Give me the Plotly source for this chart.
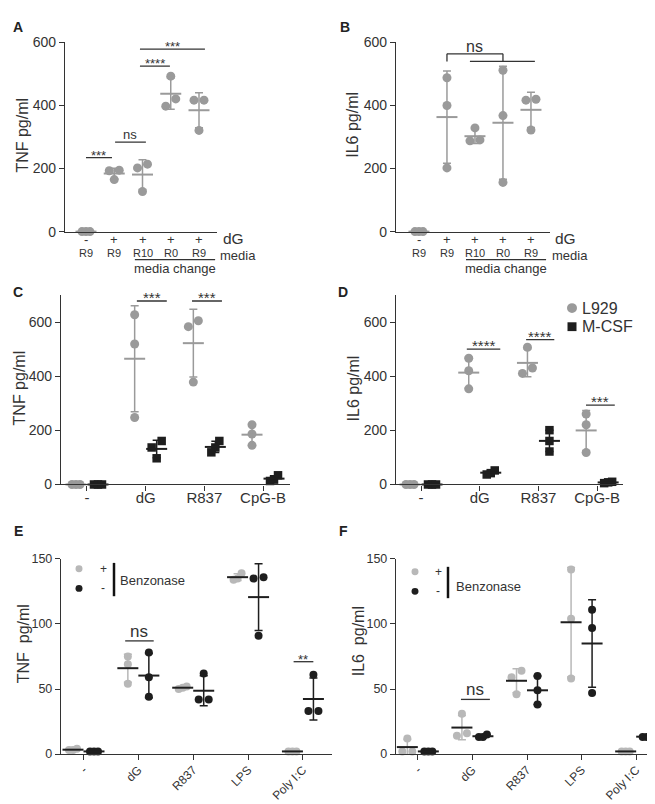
import numpy as np
import plotly.graph_objects as go

W, H = 655, 804
FONT = "Liberation Sans, Arial, Helvetica, sans-serif"
TXT = "#333333"
GRAY = "#9a9a9a"
LGRAY = "#b8b8b8"
BLACK = "#1e1e1e"

# ---------------- data ----------------
A_DG = ["-", "+", "+", "+", "+"]
A_MEDIA = ["R9", "R9", "R10", "R0", "R9"]
A_TNF = [[0, 0, 0], [193, 195, 165], [214, 202, 127], [493, 421, 398], [417, 417, 321]]
B_IL6 = [[0, 0, 0], [488, 400, 202], [329, 288, 291], [512, 368, 156], [420, 417, 322]]

CD_CATS = ["-", "dG", "R837", "CpG-B"]
C_TNF_L929 = [[0, 0, 0], [628, 520, 248], [606, 584, 379], [221, 187, 145]]
C_TNF_MCSF = [[0, 0, 0], [161, 137, 97], [161, 137, 119], [34, 18, 13]]
D_IL6_L929 = [[0, 0, 0], [467, 421, 354], [508, 431, 411], [261, 221, 118]]
D_IL6_MCSF = [[0, 0, 0], [52, 42, 37], [201, 161, 122], [10, 8, 5]]

EF_CATS = ["-", "dG", "R837", "LPS", "Poly I:C"]
E_TNF_PLUS = [[3, 4, 3], [75, 69, 54], [51, 52, 50], [139, 135, 134], [2, 2, 2]]
E_TNF_MINUS = [[2, 2, 2], [78, 59, 44], [62, 42, 42], [135, 136, 91], [61, 33, 33]]
F_IL6_PLUS = [[12, 2, 2], [31, 16, 14], [64, 59, 46], [142, 104, 58], [2, 2, 2]]
F_IL6_MINUS = [[2, 2, 2], [15, 13, 13], [60, 49, 38], [111, 97, 47], [14, 13, 13]]

Y_TICKS_AB = [0, 200, 400, 600]
Y_TICKS_CD = [0, 200, 400, 600]
Y_TICKS_EF = [0, 50, 100, 150]

# ---------------- layout geometry (pixels) ----------------
PANELS = {
    "A": dict(ax="", px=(57, 209), py=(27, 220), xr=(-0.743, 4.637), yr=(0, 600)),
    "B": dict(ax="2", px=(388, 542), py=(27, 220), xr=(-0.82, 4.68), yr=(0, 600)),
    "C": dict(ax="3", px=(53, 282), py=(285, 478), xr=(-0.443, 3.46), yr=(0, 700)),
    "D": dict(ax="4", px=(388, 615), py=(285, 478), xr=(-0.426, 3.44), yr=(0, 700)),
    "E": dict(ax="5", px=(53, 324), py=(554, 753), xr=(-0.41, 4.53), yr=(0, 150)),
    "F": dict(ax="6", px=(388, 650), py=(554, 753), xr=(-0.40, 4.40), yr=(0, 150)),
}
for p in PANELS.values():
    p["ppx"] = (p["px"][1] - p["px"][0]) / (p["xr"][1] - p["xr"][0])
    p["ppy"] = (p["py"][1] - p["py"][0]) / (p["yr"][1] - p["yr"][0])


def PX(x):
    return x / W


def PY(y):
    return 1 - y / H


def swarm(vals, p, thr=7.5):
    vals = np.asarray(vals, float)
    order = np.argsort(vals, kind="stable")
    clusters = []
    for i in order:
        if clusters and (vals[i] - vals[clusters[-1][-1]]) * p["ppy"] < thr:
            clusters[-1].append(i)
        else:
            clusters.append([i])
    offs = np.zeros(len(vals))
    for c in clusters:
        n = len(c)
        step = 10.0 if n == 2 else 4.0
        for k, i in enumerate(c):
            offs[i] = (k - (n - 1) / 2) * step / p["ppx"]
    return offs


fig = go.Figure()


def add_group(pname, center, vals, color, symbol, size, bar_color, mean_color, mean_w=15):
    p = PANELS[pname]
    xa, ya = "x" + p["ax"], "y" + p["ax"]
    v = np.asarray(vals, float)
    offs = swarm(v, p)
    fig.add_trace(go.Scatter(
        x=center + offs, y=v, mode="markers", xaxis=xa, yaxis=ya,
        marker=dict(color=color, size=size, symbol=symbol, line=dict(width=0)),
        cliponaxis=False, showlegend=False, hoverinfo="skip"))
    m = float(v.mean())
    sd = float(v.std(ddof=1))
    fig.add_trace(go.Scatter(
        x=[center], y=[m], mode="markers", xaxis=xa, yaxis=ya,
        marker=dict(symbol="line-ew", size=mean_w, color=mean_color,
                    line=dict(color=mean_color, width=2)),
        error_y=dict(type="data", array=[sd], visible=sd > 0, color=bar_color,
                     thickness=1.5, width=4),
        cliponaxis=False, showlegend=False, hoverinfo="skip"))


# Panel A, B
for i, vals in enumerate(A_TNF):
    add_group("A", i, vals, GRAY, "circle", 9, GRAY, GRAY)
for i, vals in enumerate(B_IL6):
    add_group("B", i, vals, GRAY, "circle", 9, GRAY, GRAY)

# Panel C, D
for pname, l929, mcsf in (("C", C_TNF_L929, C_TNF_MCSF), ("D", D_IL6_L929, D_IL6_MCSF)):
    d = 11 / PANELS[pname]["ppx"]
    for i in range(len(CD_CATS)):
        add_group(pname, i - d, l929[i], GRAY, "circle", 9, GRAY, GRAY)
        add_group(pname, i + d, mcsf[i], BLACK, "square", 8.5, BLACK, BLACK)

# Panel E, F
for pname, plus, minus in (("E", E_TNF_PLUS, E_TNF_MINUS), ("F", F_IL6_PLUS, F_IL6_MINUS)):
    d = 10.5 / PANELS[pname]["ppx"]
    for i in range(len(EF_CATS)):
        add_group(pname, i - d, plus[i], LGRAY, "circle", 8, LGRAY, BLACK)
        add_group(pname, i + d, minus[i], BLACK, "circle", 8, BLACK, BLACK)

# ---------------- axes ----------------
layout = dict(
    width=W, height=H, margin=dict(l=0, r=0, t=0, b=0),
    paper_bgcolor="white", plot_bgcolor="white", showlegend=False,
    font=dict(family=FONT, color=TXT),
)
axis_common = dict(showline=True, linecolor="#333333", linewidth=1.4, showgrid=False,
                   zeroline=False, fixedrange=True, tickcolor="#333333", tickwidth=1.3)
for pname, p in PANELS.items():
    k = p["ax"]
    xa = dict(axis_common, domain=[PX(p["px"][0]), PX(p["px"][1])], range=list(p["xr"]),
              anchor="y" + k)
    ya = dict(axis_common, domain=[PY(p["py"][1]), PY(p["py"][0])], range=list(p["yr"]),
              anchor="x" + k, ticks="outside", ticklen=5)
    if pname in ("A", "B"):
        xa.update(ticks="", showticklabels=False)
        ya.update(tickvals=Y_TICKS_AB, tickfont=dict(size=14))
    elif pname in ("C", "D"):
        xa.update(ticks="outside", ticklen=5, tickvals=list(range(len(CD_CATS))),
                  ticktext=CD_CATS, tickfont=dict(size=15), ticklabelstandoff=-6)
        ya.update(tickvals=Y_TICKS_CD, tickfont=dict(size=14))
    else:
        xa.update(ticks="outside", ticklen=5, tickvals=list(range(len(EF_CATS))),
                  ticktext=EF_CATS, tickangle=-45, tickfont=dict(size=12),
                  ticklabelstandoff=-2)
        ya.update(tickvals=Y_TICKS_EF, tickfont=dict(size=12.5))
    layout["xaxis" + k] = xa
    layout["yaxis" + k] = ya
fig.update_layout(**layout)

shapes = []
anns = []


def ann(text, x, y, xref="paper", yref="paper", size=13, **kw):
    d = dict(text=text, x=x, y=y, xref=xref, yref=yref, showarrow=False,
             xanchor="center", yanchor="middle", borderpad=0,
             font=dict(size=size, color=kw.pop("color", TXT), family=FONT))
    d.update(kw)
    anns.append(d)


def hline(pname, x0, x1, y, width=1.3, color="#333333"):
    k = PANELS[pname]["ax"]
    shapes.append(dict(type="line", xref="x" + k, yref="y" + k, x0=x0, x1=x1, y0=y, y1=y,
                       line=dict(color=color, width=width)))


def sig(pname, text, x0, x1, y, size=13, star=True):
    hline(pname, x0, x1, y)
    k = PANELS[pname]["ax"]
    ann(text, (x0 + x1) / 2, y, "x" + k, "y" + k, size=size, yanchor="bottom",
        yshift=-6 if star else -1)


# panel letters
for letter, (x, y) in {"A": (10, 11), "B": (337, 11), "C": (10, 282), "D": (335, 282),
                       "E": (10, 525), "F": (335, 525)}.items():
    ann("<b>%s</b>" % letter, PX(x), PY(y), size=14, color="#222222")

# y titles
for pname, text, x, y in (("A", "TNF pg/ml", 15, 122), ("B", "IL6 pg/ml", 345, 111),
                          ("C", "TNF pg/ml", 11, 380), ("D", "IL6 pg/ml", 345, 380),
                          ("E", "TNF  pg/ml", 15, 641), ("F", "IL6  pg/ml", 350, 638)):
    ann(text, PX(x), PY(y), size=16, textangle=-90)

# A/B category rows below axis
for pname, dgx, medx, mc_line, mc_x in (("A", 226, 230, (1.73, 4.57), 3.15),
                                         ("B", 557, 562, (1.68, 4.54), 3.10)):
    k = PANELS[pname]["ax"]
    for i, (s, m) in enumerate(zip(A_DG, A_MEDIA)):
        ann(s, i, PY(228), "x" + k, "paper", size=13)
        ann(m, i, PY(241.5), "x" + k, "paper", size=11)
    shapes.append(dict(type="line", xref="x" + k, yref="paper", x0=mc_line[0], x1=mc_line[1],
                       y0=PY(248.5), y1=PY(248.5), line=dict(color="#333333", width=1.2)))
    ann("media change", mc_x, PY(257.5), "x" + k, "paper", size=13)
    ann("dG", PX(dgx), PY(227.5), size=15.5)
    ann("media", PX(medx), PY(244), size=13)

# significance marks
sig("A", "***", 0.0, 0.92, 235)
sig("A", "ns", 1.03, 2.12, 284, size=13, star=False)
sig("A", "****", 1.91, 2.97, 525)
sig("A", "***", 1.91, 4.21, 579)

# B bracket
kB = PANELS["B"]["ax"]
for (x0, y0, x1, y1) in ((1.0, 540, 1.0, 564), (1.0, 564, 3.0, 564), (3.0, 564, 3.0, 540),
                         (1.82, 540, 4.14, 540)):
    shapes.append(dict(type="line", xref="x" + kB, yref="y" + kB, x0=x0, x1=x1, y0=y0, y1=y1,
                       line=dict(color="#333333", width=1.3)))
ann("ns", 2.0, 564, "x" + kB, "y" + kB, size=16, yanchor="bottom", yshift=-2)

sig("C", "***", 0.85, 1.36, 679, size=15)
sig("C", "***", 1.79, 2.30, 679, size=15)
sig("D", "****", 0.78, 1.35, 501, size=15)
sig("D", "****", 1.79, 2.27, 536, size=15)
sig("D", "***", 2.81, 3.30, 294, size=15)
sig("E", "ns", 0.76, 1.28, 87, size=17, star=False)
sig("E", "**", 3.83, 4.19, 71, size=13)
sig("F", "ns", 0.79, 1.32, 42, size=17, star=False)


# legends
def circle(cx, cy, d, color):
    shapes.append(dict(type="circle", xref="paper", yref="paper",
                       x0=PX(cx - d / 2), x1=PX(cx + d / 2), y0=PY(cy + d / 2), y1=PY(cy - d / 2),
                       fillcolor=color, line=dict(width=0)))


def square(cx, cy, d, color):
    shapes.append(dict(type="rect", xref="paper", yref="paper",
                       x0=PX(cx - d / 2), x1=PX(cx + d / 2), y0=PY(cy + d / 2), y1=PY(cy - d / 2),
                       fillcolor=color, line=dict(width=0)))


circle(564, 298, 10, GRAY)
square(564, 317, 9, BLACK)
ann("L929", PX(573), PY(298), size=16, xanchor="left")
ann("M-CSF", PX(573), PY(317), size=16, xanchor="left")

for dx, y1, y2, sym_x, bar_x, bar_y, bz_x, bz_y in ((71, 564, 584, 95, 106, (558, 592), 111, 576),
                                                      (407, 567, 587, 430, 440, (562, 594), 447, 582)):
    circle(dx, y1, 7, LGRAY)
    circle(dx, y2, 7, BLACK)
    ann("+", PX(sym_x), PY(y1), size=12)
    ann("-", PX(sym_x), PY(y2), size=12)
    shapes.append(dict(type="line", xref="paper", yref="paper", x0=PX(bar_x), x1=PX(bar_x),
                       y0=PY(bar_y[0]), y1=PY(bar_y[1]), line=dict(color="#111111", width=2.5)))
    ann("Benzonase", PX(bz_x), PY(bz_y), size=13, xanchor="left")

fig.update_layout(shapes=shapes, annotations=anns)
fig.write_html("out.html")
